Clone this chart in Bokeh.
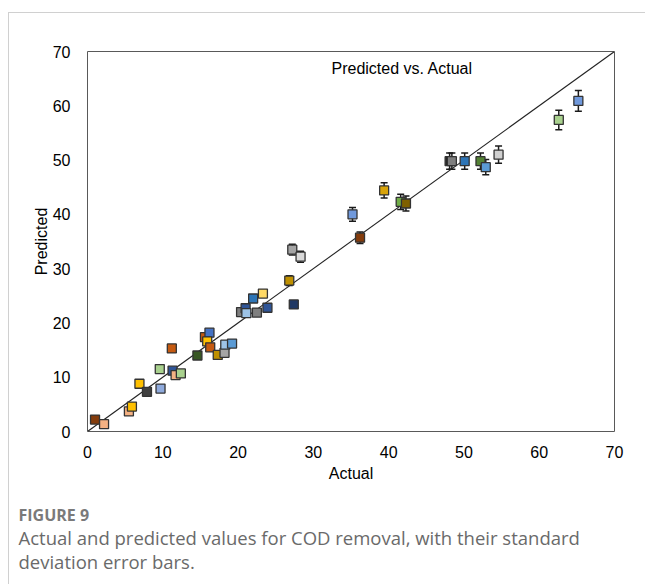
from bokeh.plotting import figure
from bokeh.layouts import column
from bokeh.models import (ColumnDataSource, Whisker, TeeHead, Label,
                          FixedTicker, Range1d)
from bokeh.embed import file_html
from bokeh.resources import INLINE

# Actual vs predicted COD removal (%) with standard deviations
actual = [1.0, 2.2, 5.5, 5.9, 6.9, 7.9, 9.7, 9.6, 11.2, 11.3, 11.7, 12.4,
          14.6, 15.6, 16.2, 15.9, 16.3, 17.3, 18.2, 18.3, 19.2,
          20.4, 21.0, 21.1, 22.0, 23.3, 22.5, 23.9, 26.8, 27.4, 27.2, 28.3,
          35.2, 36.2, 39.4, 41.6, 42.3, 48.1, 48.4, 50.1, 52.2, 52.9, 54.6,
          62.6, 65.2]
predicted = [2.2, 1.35, 3.7, 4.6, 8.8, 7.3, 7.9, 11.5, 15.3, 11.2, 10.4, 10.7,
             14.0, 17.4, 18.2, 16.6, 15.5, 14.1, 14.5, 16.0, 16.2,
             22.0, 22.7, 21.8, 24.5, 25.4, 21.9, 22.8, 27.8, 23.4, 33.5, 32.2,
             40.0, 35.7, 44.4, 42.3, 42.0, 49.8, 49.8, 49.8, 49.8, 48.7, 51.0,
             57.4, 60.9]
std_dev = [0.4, 0.3, 0.3, 0.4, 0.5, 0.5, 0.5, 0.5, 0.6, 0.5, 0.5, 0.5,
           0.6, 0.6, 0.6, 0.6, 0.6, 0.6, 0.6, 0.6, 0.6,
           0.6, 0.6, 0.6, 0.6, 0.6, 0.6, 0.6, 0.9, 0.7, 1.0, 1.0,
           1.25, 1.05, 1.4, 1.4, 1.4, 1.5, 1.5, 1.5, 1.5, 1.4, 1.6,
           1.8, 1.9]
colors = ["#843C0C", "#F4B183", "#F4B183", "#FFC000", "#FFC000", "#404040",
          "#8FAADC", "#A9D18E", "#C55A11", "#2F5597", "#F4B183", "#A9D18E",
          "#385723", "#C55A11", "#4472C4", "#FFC000", "#C55A11", "#BF9000",
          "#A5A5A5", "#9DC3E6", "#5B9BD5",
          "#7F7F7F", "#2F5597", "#9DC3E6", "#2E75B6", "#FFD966", "#7F7F7F",
          "#2F5597", "#BF9000", "#203864", "#A5A5A5", "#D9D9D9",
          "#7099DC", "#843C0C", "#D9A40A", "#70AD47", "#7F6000",
          "#262626", "#7F7F7F", "#2E75B6", "#548235", "#5B9BD5", "#D0D0D0",
          "#A9D18E", "#7099DC"]
axis_ticks = [0, 10, 20, 30, 40, 50, 60, 70]
parity_line = [0, 70]
caption_title = "FIGURE 9"
caption_lines = ["Actual and predicted values for COD removal, with their standard",
                 "deviation error bars."]

src = ColumnDataSource(dict(
    x=actual, y=predicted,
    lower=[p - s for p, s in zip(predicted, std_dev)],
    upper=[p + s for p, s in zip(predicted, std_dev)],
    color=colors,
))

FONT = "Liberation Sans"
W = 637  # inner width, inside the page's left rule

p = figure(width=W, height=477, output_backend="svg", toolbar_location=None,
           x_range=Range1d(0, 70), y_range=Range1d(0, 70),
           min_border_left=78, min_border_right=32,
           min_border_top=38, min_border_bottom=59)
p.frame_align = False

p.background_fill_color = "white"
p.border_fill_color = "white"
p.outline_line_color = "#595959"
p.outline_line_width = 1
p.grid.visible = False

for ax in (p.xaxis[0], p.yaxis[0]):
    ax.ticker = FixedTicker(ticks=axis_ticks)
    ax.axis_line_color = None
    ax.major_tick_line_color = None
    ax.minor_tick_line_color = None
    ax.major_label_text_font = FONT
    ax.major_label_text_font_size = "16px"
    ax.major_label_text_color = "#000000"
    ax.axis_label_text_font = FONT
    ax.axis_label_text_font_size = "16px"
    ax.axis_label_text_font_style = "normal"
    ax.axis_label_text_color = "#000000"

p.xaxis.axis_label = "Actual"
p.yaxis.axis_label = "Predicted"
p.xaxis.major_label_standoff = 8
p.yaxis.major_label_standoff = 11
p.xaxis.axis_label_standoff = 4
p.yaxis.axis_label_standoff = 0

# 1:1 parity line
p.line(parity_line, parity_line, line_color="#222222", line_width=1.1)

# standard deviation error bars, kept underneath the markers
head = dict(size=7, line_color="#1a1a1a", line_width=1.5)
whisk = Whisker(source=src, base="x", lower="lower", upper="upper",
                line_color="#1a1a1a", line_width=1.5, level="underlay",
                upper_head=TeeHead(**head), lower_head=TeeHead(**head))
p.add_layout(whisk)

p.scatter("x", "y", source=src, marker="square", size=9,
          fill_color="color", line_color="#333333", line_width=1.3)

p.add_layout(Label(x=41.8, y=66.9, text="Predicted vs. Actual",
                   text_align="center", text_baseline="middle",
                   text_font=FONT, text_font_size="16px", text_color="#000000"))

# caption strip below the chart; its ranges are in pixels, measured from the top
CAP_H = 95
cap = figure(width=W, height=CAP_H, output_backend="svg", toolbar_location=None,
             x_range=Range1d(0, W), y_range=Range1d(CAP_H, 0),
             min_border=0, x_axis_location=None, y_axis_location=None)
cap.frame_align = False
cap.outline_line_color = None
cap.grid.visible = False
cap.background_fill_color = "white"
cap.border_fill_color = "white"

cap.add_layout(Label(x=9, y=24, text=caption_title, text_font="Open Sans",
                     text_font_size="16px", text_font_style="bold",
                     text_color="#7a7a7a", text_baseline="middle"))
for i, line in enumerate(caption_lines):
    cap.add_layout(Label(x=9, y=47 + 24 * i, text=line, text_font="Open Sans",
                         text_font_size="18.5px", text_color="#6a6a6a",
                         text_baseline="middle"))

# thin page rules along the top and left edges
page = column(p, cap, spacing=0,
              styles={"margin-left": "9px", "margin-top": "13px",
                      "box-shadow": "-1px -1px 0 0 #d0d0d0"})

open("out.html", "w").write(file_html(page, INLINE))
